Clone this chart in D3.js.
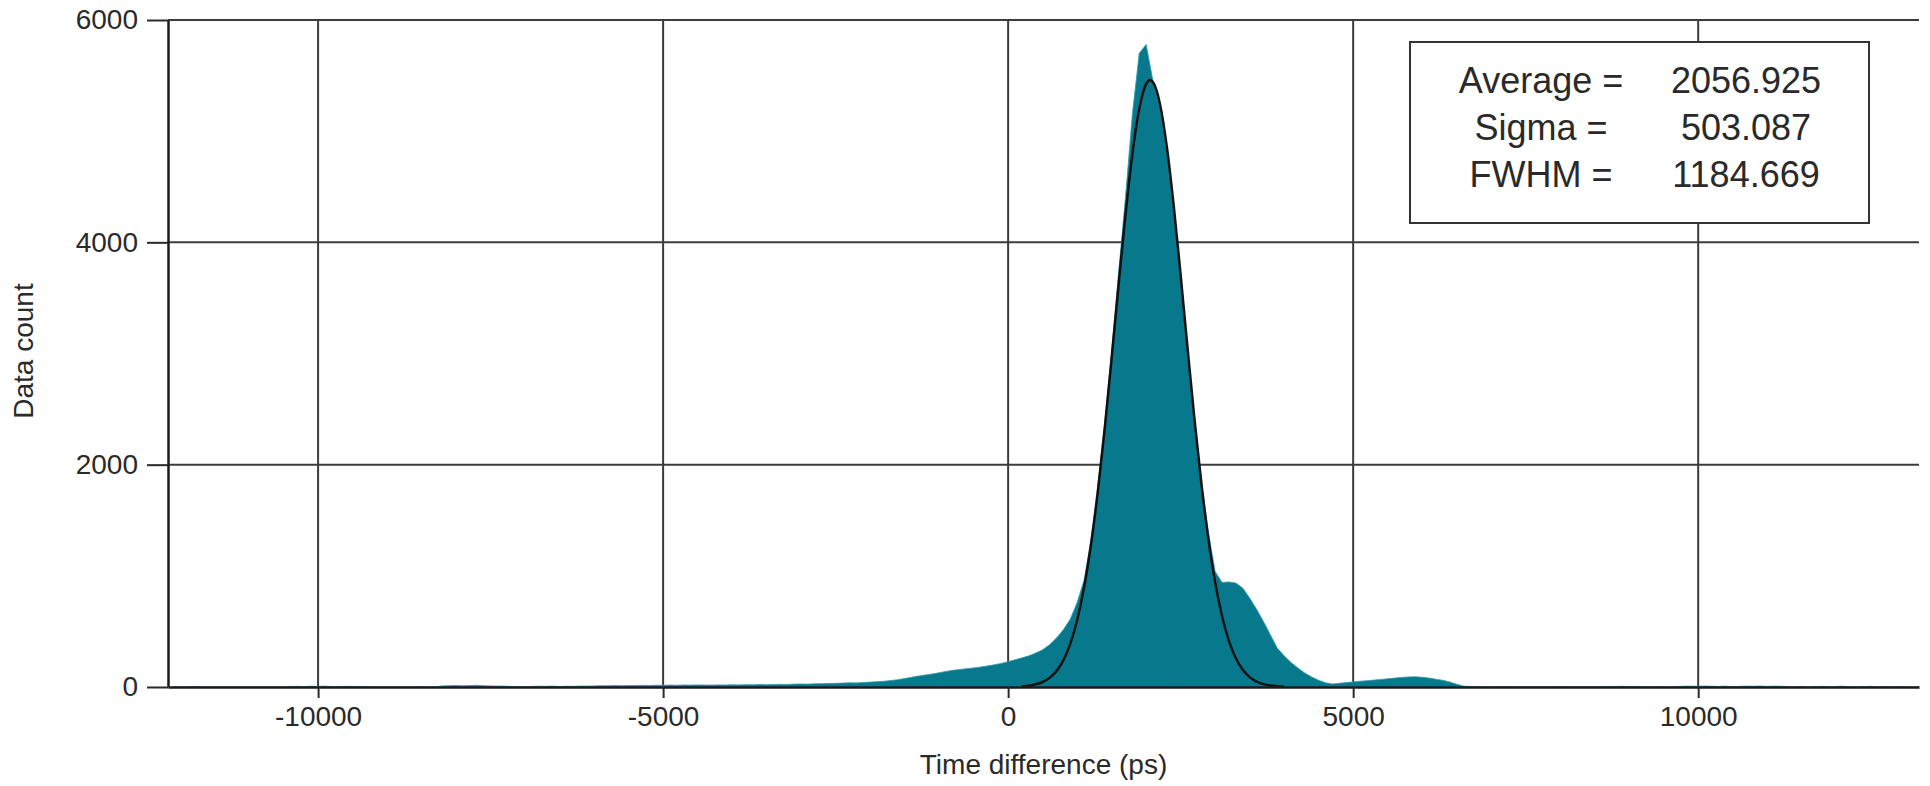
<!DOCTYPE html>
<html>
<head>
<meta charset="utf-8">
<script src="https://cdn.jsdelivr.net/npm/d3@7"></script>
<style>
  body { margin: 0; background: #fff; }
  svg { display: block; }
  text { font-family: "Liberation Sans", Arial, sans-serif; fill: #2a2a2a; }
</style>
</head>
<body>
<div id="chart"></div>
<script>
// histogram, 100 ps bins starting at -12100 ps
const histStart = -12100;
const histStep = 100;
const counts = [
  0, 0, 0, 4, 0, 0, 0, 0, 0, 0,
  0, 0, 0, 0, 0, 0, 0, 3, 6, 4,
  7, 5, 8, 3, 2, 6, 5, 4, 2, 0,
  0, 0, 0, 0, 0, 0, 2, 0, 0, 10,
  12, 14, 11, 13, 15, 12, 10, 9, 8, 5,
  2, 1, 5, 7, 6, 8, 5, 7, 6, 9,
  8, 10, 12, 11, 13, 12, 14, 13, 15, 14,
  16, 15, 17, 16, 18, 17, 19, 18, 17, 19,
  18, 20, 19, 21, 20, 22, 21, 23, 24, 23,
  26, 27, 26, 29, 30, 32, 33, 35, 38, 37,
  41, 44, 48, 52, 58, 66, 76, 88, 98, 108,
  118, 128, 140, 150, 158, 165, 172, 180, 190, 200,
  212, 228, 245, 262, 280, 305, 335, 380, 440, 515,
  610, 760, 960, 1320, 1800, 2380, 3020, 3720, 4400, 5150,
  5700, 5780, 5450, 5210, 4830, 4300, 3690, 3050, 2420, 1860,
  1400, 1040, 940, 945, 935, 890, 800, 700, 590, 470,
  350, 280, 220, 170, 125, 90, 60, 38, 27, 33,
  40, 46, 52, 57, 62, 68, 74, 80, 86, 91,
  92, 88, 80, 70, 60, 45, 25, 8, 5, 3,
  2, 2, 1, 2, 1, 2, 1, 1, 2, 1,
  1, 2, 1, 1, 2, 1, 1, 2, 4, 5,
  6, 4, 5, 2, 0, 3, 0, 0, 5, 7,
  8, 6, 9, 7, 5, 8, 2, 6, 8, 7,
  9, 6, 8, 7, 3, 0, 5, 0, 4, 6,
  0, 5, 7, 0, 0, 4, 6, 0, 3, 0,
  2, 0, 0, 0
];

// gaussian fit line
const fitTime = [200, 300, 400, 500, 600, 700, 800, 900, 1000, 1100, 1200, 1300, 1400, 1500, 1600, 1700, 1800, 1900, 2000, 2057,
  2100, 2200, 2300, 2400, 2500, 2600, 2700, 2800, 2900, 3000, 3100, 3200, 3300, 3400, 3500, 3600, 3700, 3800, 3900, 4000];
const fitCount = [6, 12, 24, 45, 82, 143, 240, 388, 601, 894, 1279, 1759, 2326, 2958, 3614, 4244, 4792, 5201, 5425, 5460,
  5440, 5244, 4859, 4328, 3705, 3049, 2412, 1834, 1340, 942, 636, 413, 258, 155, 89, 49, 26, 13, 7, 3];

const xTicks = [-10000, -5000, 0, 5000, 10000];
const yTicks = [0, 2000, 4000, 6000];
const statLabels = ["Average =", "Sigma =", "FWHM ="];
const statValues = ["2056.925", "503.087", "1184.669"];

const W = 1930, H = 786;
const margin = { top: 20, right: 11, bottom: 99, left: 168 };
const width = W - margin.left - margin.right;
const height = H - margin.top - margin.bottom;

const svg = d3.select("#chart").append("svg")
  .attr("width", W)
  .attr("height", H);

const g = svg.append("g")
  .attr("transform", "translate(" + margin.left + "," + margin.top + ")");

const x = d3.scaleLinear().domain([-12175, 13200]).range([0, width]);
const y = d3.scaleLinear().domain([0, 6000]).range([height, 0]);

// grid
g.selectAll(".vgrid")
  .data(xTicks)
  .enter().append("line")
  .attr("x1", d => x(d)).attr("x2", d => x(d))
  .attr("y1", 0).attr("y2", height)
  .attr("stroke", "#3c3c3c").attr("stroke-width", 2);

g.selectAll(".hgrid")
  .data(yTicks.filter(d => d > 0))
  .enter().append("line")
  .attr("x1", 0).attr("x2", width)
  .attr("y1", d => y(d)).attr("y2", d => y(d))
  .attr("stroke", "#3c3c3c").attr("stroke-width", 2);

// histogram
const hist = counts.map((c, i) => ({ t: histStart + i * histStep, c: c }));

g.append("clipPath").attr("id", "clip")
  .append("rect").attr("width", width).attr("height", height);

g.append("path")
  .datum(hist)
  .attr("clip-path", "url(#clip)")
  .attr("fill", "#08798c")
  .attr("stroke", "#2f9aab")
  .attr("stroke-width", 0.8)
  .attr("d", d3.area()
    .x(d => x(d.t))
    .y0(y(0))
    .y1(d => y(d.c)));

// fit
const fit = fitTime.map((t, i) => ({ t: t, c: fitCount[i] }));
g.append("path")
  .datum(fit)
  .attr("fill", "none")
  .attr("stroke", "#111")
  .attr("stroke-width", 2.5)
  .attr("d", d3.line()
    .x(d => x(d.t))
    .y(d => y(d.c))
    .curve(d3.curveMonotoneX));

// axes
const xAxis = d3.axisBottom(x)
  .tickValues(xTicks)
  .tickSize(11)
  .tickSizeOuter(0)
  .tickPadding(8)
  .tickFormat(d => String(d));

const yAxis = d3.axisLeft(y)
  .tickValues(yTicks)
  .tickSize(21)
  .tickSizeOuter(0)
  .tickPadding(9)
  .tickFormat(d => String(d));

const gx = g.append("g")
  .attr("transform", "translate(0," + height + ")")
  .call(xAxis);

const gy = g.append("g").call(yAxis);

[gx, gy].forEach(a => {
  a.select(".domain").attr("stroke", "#1a1a1a").attr("stroke-width", 2.5);
  a.selectAll(".tick line").attr("stroke", "#2a2a2a").attr("stroke-width", 2);
  a.selectAll(".tick text")
    .style("font-size", "28px")
    .style("font-family", "'Liberation Sans', Arial, sans-serif")
    .attr("fill", "#2a2a2a");
});

// axis titles
g.append("text")
  .attr("x", width / 2)
  .attr("y", height + 87)
  .style("text-anchor", "middle")
  .style("font-size", "28px")
  .text("Time difference (ps)");

svg.append("text")
  .attr("transform", "translate(33," + 351 + ") rotate(-90)")
  .style("text-anchor", "middle")
  .style("font-size", "28px")
  .text("Data count");

// stats box
const box = svg.append("g").attr("transform", "translate(1410,42)");
box.append("rect")
  .attr("width", 459)
  .attr("height", 181)
  .attr("fill", "#fff")
  .attr("stroke", "#333")
  .attr("stroke-width", 2);

box.selectAll(".lab")
  .data(statLabels)
  .enter().append("text")
  .attr("x", 131)
  .attr("y", (d, i) => 51 + i * 47)
  .style("text-anchor", "middle")
  .style("font-size", "36px")
  .text(d => d);

box.selectAll(".val")
  .data(statValues)
  .enter().append("text")
  .attr("x", 336)
  .attr("y", (d, i) => 51 + i * 47)
  .style("text-anchor", "middle")
  .style("font-size", "36px")
  .text(d => d);
</script>
</body>
</html>
